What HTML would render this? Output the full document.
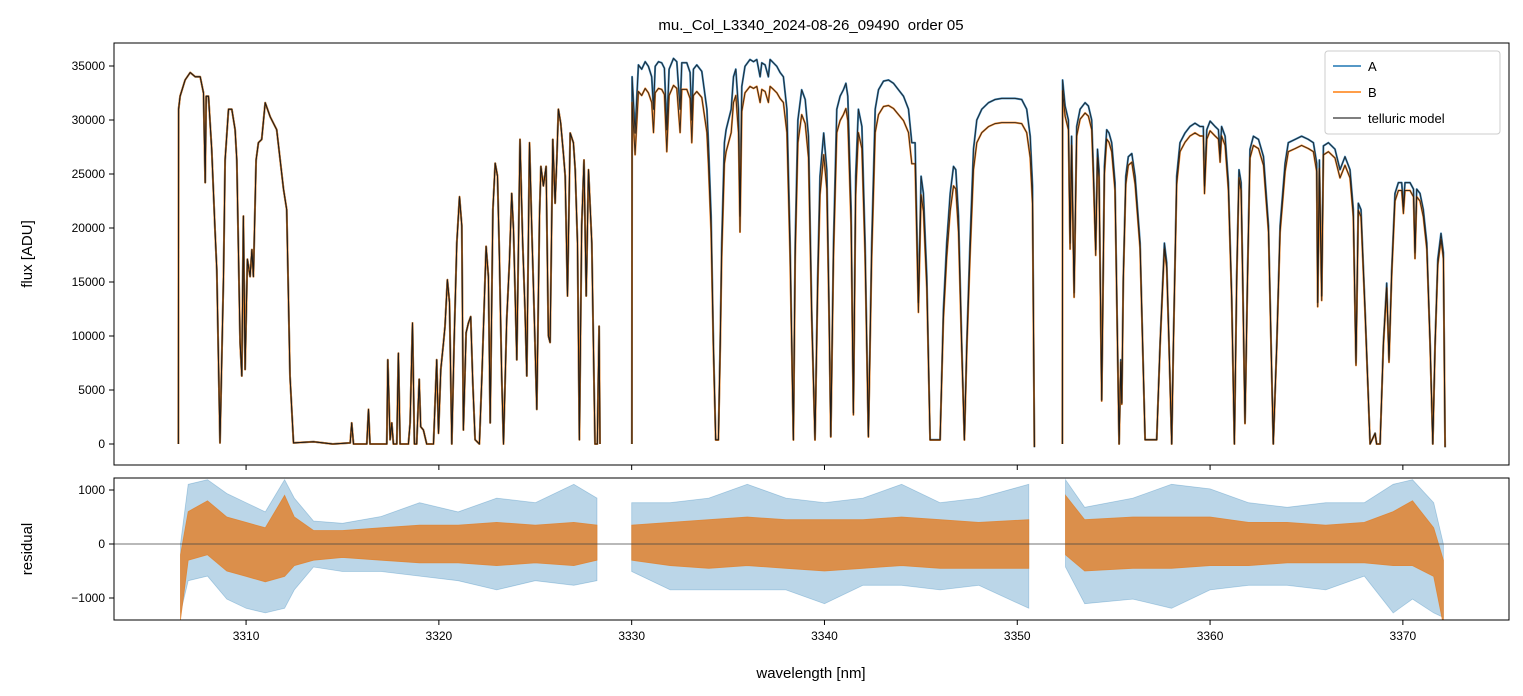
<!DOCTYPE html>
<html><head><meta charset="utf-8">
<style>
html,body{margin:0;padding:0;background:#fff;}
svg{display:block;font-family:"Liberation Sans","DejaVu Sans",sans-serif;}
</style></head>
<body>
<svg id="chart" width="1523" height="696" viewBox="0 0 1523 696" xmlns="http://www.w3.org/2000/svg">
<defs>
<clipPath id="cTop"><rect x="114" y="43" width="1395" height="422"/></clipPath>
<clipPath id="cRes"><rect x="114" y="478" width="1395" height="142"/></clipPath>
</defs>
<text x="811" y="30" text-anchor="middle" font-size="15" fill="#000" style="white-space:pre" xml:space="preserve">mu._Col_L3340_2024-08-26_09490  order 05</text>
<g id="gTop" clip-path="url(#cTop)"></g>
<g id="gRes" clip-path="url(#cRes)"></g>
<rect x="114" y="43" width="1395" height="422" fill="none" stroke="#000" stroke-width="1"/>
<rect x="114" y="478" width="1395" height="142" fill="none" stroke="#000" stroke-width="1"/>
<g id="gAxes"></g>
<text transform="translate(32,254) rotate(-90)" text-anchor="middle" font-size="15">flux [ADU]</text>
<text transform="translate(32,549) rotate(-90)" text-anchor="middle" font-size="15">residual</text>
<text x="811" y="678" text-anchor="middle" font-size="15">wavelength [nm]</text>
<g>
<rect x="1325" y="51" width="175" height="83" rx="3" fill="#fff" fill-opacity="0.85" stroke="#ccc"/>
<line x1="1333" y1="66" x2="1361" y2="66" stroke="#1f77b4" stroke-width="1.6"/>
<text x="1368" y="71" font-size="13">A</text>
<line x1="1333" y1="92" x2="1361" y2="92" stroke="#ff7f0e" stroke-width="1.6"/>
<text x="1368" y="97" font-size="13">B</text>
<line x1="1333" y1="118" x2="1361" y2="118" stroke="#555" stroke-width="1.6"/>
<text x="1368" y="123" font-size="13">telluric model</text>
</g>
</svg>
<script>
const xTicks=[3310,3320,3330,3340,3350,3360,3370];
const yTicks=[0,5000,10000,15000,20000,25000,30000,35000];
const resTicks=[-1000,0,1000];
const scaleA=[1,1,1];
const scaleB=[1,0.93,0.97];
const modelSeg1=[[3306.49,0],[3306.50,31000],[3306.58,32200],[3306.84,33700],[3307.10,34400],[3307.36,34000],[3307.62,34000],[3307.79,32500],[3307.88,24200],[3307.93,32200],[3308.05,32200],[3308.22,27300],[3308.39,19850],[3308.48,16100],[3308.65,100],[3308.83,15500],[3308.91,26300],[3309.09,31000],[3309.26,31000],[3309.43,29100],[3309.52,26300],[3309.69,9400],[3309.78,6300],[3309.86,21100],[3309.95,6900],[3310.07,17100],[3310.21,15500],[3310.30,18000],[3310.38,15500],[3310.52,26300],[3310.64,27900],[3310.81,28200],[3310.99,31600],[3311.25,30300],[3311.59,29100],[3311.94,23600],[3312.11,21700],[3312.28,6300],[3312.46,100],[3313.5,200],[3314.5,0],[3315.40,100],[3315.48,1950],[3315.57,0],[3316.26,0],[3316.35,3200],[3316.43,0],[3317.30,0],[3317.35,7800],[3317.47,400],[3317.56,1950],[3317.64,0],[3317.82,0],[3317.90,8400],[3317.99,0],[3318.42,0],[3318.51,1950],[3318.63,11200],[3318.73,0],[3318.85,0],[3318.98,6000],[3319.06,1600],[3319.20,1300],[3319.37,0],[3319.72,0],[3319.89,7800],[3319.98,1000],[3320.10,6900],[3320.24,9400],[3320.32,10900],[3320.44,15200],[3320.55,13100],[3320.67,0],[3320.79,9400],[3320.93,18600],[3321.07,22900],[3321.19,20200],[3321.27,1300],[3321.41,10300],[3321.53,11200],[3321.65,11800],[3321.76,5650],[3321.88,400],[3322.10,0],[3322.23,6300],[3322.45,18300],[3322.57,15500],[3322.66,1950],[3322.80,21700],[3322.92,26000],[3323.04,24800],[3323.14,17400],[3323.26,6300],[3323.35,0],[3323.52,11500],[3323.66,16800],[3323.78,23200],[3323.87,19850],[3324.04,7800],[3324.21,28200],[3324.35,18600],[3324.47,12400],[3324.56,6300],[3324.70,27900],[3324.82,19850],[3324.94,12400],[3325.08,3200],[3325.22,21100],[3325.29,25700],[3325.42,23900],[3325.56,25700],[3325.68,10000],[3325.77,9400],[3325.91,28200],[3326.03,22300],[3326.12,26600],[3326.20,31000],[3326.32,29700],[3326.46,26900],[3326.55,24800],[3326.67,13700],[3326.81,28800],[3326.98,27900],[3327.07,25400],[3327.19,18600],[3327.29,400],[3327.41,20200],[3327.53,26300],[3327.64,13700],[3327.76,25400],[3327.93,18600],[3328.10,0],[3328.22,0],[3328.31,10900],[3328.36,0]];
const modelSeg2=[[3330.01,0],[3330.02,34000],[3330.18,28800],[3330.35,35100],[3330.52,34700],[3330.70,35400],[3330.87,34970],[3331.04,34000],[3331.13,31000],[3331.22,34970],[3331.39,35400],[3331.56,35300],[3331.70,34800],[3331.82,29100],[3331.94,34700],[3332.17,35700],[3332.34,35400],[3332.51,31000],[3332.60,35300],[3332.86,35300],[3333.03,34400],[3333.12,30000],[3333.20,34700],[3333.38,35100],[3333.64,34500],[3333.90,31000],[3333.98,27900],[3334.12,21100],[3334.24,9400],[3334.36,400],[3334.50,400],[3334.59,9400],[3334.67,18600],[3334.81,27900],[3334.90,29100],[3335.02,30000],[3335.16,31000],[3335.28,34000],[3335.40,34700],[3335.54,31000],[3335.62,21100],[3335.71,33100],[3335.88,34970],[3336.14,35600],[3336.32,35400],[3336.49,35600],[3336.66,34000],[3336.75,35300],[3336.92,35100],[3337.09,34000],[3337.18,35600],[3337.35,35300],[3337.53,34970],[3337.70,34400],[3337.87,34000],[3338.05,31000],[3338.22,18600],[3338.39,400],[3338.48,18600],[3338.62,30000],[3338.82,32800],[3339.00,31900],[3339.17,28500],[3339.34,12400],[3339.51,400],[3339.65,15500],[3339.77,24800],[3339.96,28800],[3340.12,25400],[3340.24,12400],[3340.33,700],[3340.47,18600],[3340.64,31000],[3340.81,32200],[3340.98,32800],[3341.11,33400],[3341.21,32200],[3341.38,21700],[3341.50,2900],[3341.62,24800],[3341.76,31000],[3341.94,29400],[3342.11,18600],[3342.28,700],[3342.45,18600],[3342.63,31000],[3342.80,32800],[3343.06,33600],[3343.32,33700],[3343.58,33400],[3343.84,32800],[3344.10,32200],[3344.36,31000],[3344.53,27900],[3344.70,27900],[3344.87,13100],[3345.01,24800],[3345.13,23200],[3345.31,15500],[3345.48,400],[3346.00,400],[3346.17,12400],[3346.34,18600],[3346.52,23200],[3346.69,25700],[3346.81,25400],[3346.95,21100],[3347.12,9400],[3347.26,400],[3347.38,9400],[3347.55,18600],[3347.73,27300],[3347.90,30000],[3348.16,31000],[3348.51,31600],[3348.85,31900],[3349.20,32000],[3349.54,32000],[3349.89,32000],[3350.23,31900],[3350.49,31000],[3350.67,28500],[3350.79,23900],[3350.89,-300]];
const modelSeg3=[[3352.34,0],[3352.35,33700],[3352.48,31300],[3352.65,30000],[3352.74,18600],[3352.82,28500],[3352.95,14000],[3353.08,29400],[3353.26,31000],[3353.52,31600],[3353.69,31300],[3353.86,30000],[3353.95,25400],[3354.07,18000],[3354.16,27300],[3354.24,25400],[3354.38,4100],[3354.52,25700],[3354.64,29100],[3354.76,28800],[3354.90,27900],[3355.07,24200],[3355.28,0],[3355.37,7800],[3355.42,3800],[3355.50,15500],[3355.63,24800],[3355.76,26600],[3355.94,26900],[3356.11,24800],[3356.37,18600],[3356.63,400],[3357.23,400],[3357.41,9400],[3357.63,18600],[3357.75,16800],[3357.87,9400],[3358.01,0],[3358.10,9400],[3358.27,24800],[3358.44,27900],[3358.70,28800],[3358.96,29400],[3359.22,29700],[3359.48,29400],[3359.65,29400],[3359.71,23900],[3359.83,29100],[3360.00,29900],[3360.26,29400],[3360.43,29100],[3360.52,26900],[3360.60,29400],[3360.78,28500],[3360.95,24200],[3361.12,13700],[3361.26,0],[3361.38,15500],[3361.50,25400],[3361.61,24200],[3361.69,15500],[3361.81,1950],[3361.94,15500],[3362.07,27300],[3362.25,28500],[3362.51,28200],[3362.77,26600],[3363.03,20200],[3363.28,0],[3363.46,9400],[3363.63,20200],[3363.89,26000],[3364.06,27900],[3364.41,28200],[3364.75,28500],[3365.10,28200],[3365.36,27900],[3365.53,26000],[3365.58,13100],[3365.67,26300],[3365.79,13700],[3365.88,27600],[3366.14,27900],[3366.48,27300],[3366.74,25400],[3367.00,26600],[3367.26,25400],[3367.43,21700],[3367.57,7500],[3367.69,22300],[3367.83,21700],[3368.04,12400],[3368.30,0],[3368.56,1000],[3368.64,0],[3368.82,0],[3368.99,9400],[3369.16,14900],[3369.28,7800],[3369.42,16100],[3369.59,23200],[3369.77,24200],[3369.94,24200],[3370.03,22000],[3370.11,24200],[3370.37,24200],[3370.55,23600],[3370.63,17700],[3370.72,23600],[3370.89,23200],[3371.06,21700],[3371.24,18600],[3371.41,9400],[3371.55,0],[3371.67,9400],[3371.81,17100],[3371.98,19500],[3372.10,17700],[3372.19,-300]];
const resSeg1Wl=[3306.6,3307.0,3308.0,3309.0,3310.0,3311.0,3312.0,3312.5,3313.5,3315,3317,3319,3321,3323,3325,3327,3328.2];
const resSeg1Core=[[-200,-1400],[600,-300],[800,-200],[500,-500],[400,-600],[300,-700],[900,-600],[500,-400],[250,-300],[250,-250],[300,-300],[350,-350],[350,-350],[400,-400],[350,-350],[400,-400],[350,-300]];
const resSeg1Spike=[[0,-1500],[1300,-800],[1400,-700],[1100,-1200],[900,-1400],[700,-1500],[1400,-1400],[1000,-1000],[500,-500],[450,-600],[600,-600],[900,-700],[700,-800],[1000,-1000],[900,-800],[1300,-900],[1000,-800]];
const resSeg2Wl=[3330.0,3332,3334,3336,3338,3340,3342,3344,3346,3348,3350.6];
const resSeg2Core=[[350,-300],[400,-400],[450,-450],[500,-400],[450,-450],[450,-500],[450,-450],[500,-400],[450,-450],[400,-450],[450,-450]];
const resSeg2Spike=[[900,-600],[900,-1000],[1000,-1000],[1300,-1000],[1000,-1000],[900,-1300],[1000,-900],[1300,-900],[900,-1000],[1000,-900],[1300,-1400]];
const resSeg3Wl=[3352.5,3353.5,3356,3358,3360,3362,3364,3366,3368,3369.5,3370.5,3371.6,3372.1];
const resSeg3Core=[[900,-200],[450,-500],[500,-450],[500,-450],[500,-400],[400,-400],[400,-350],[350,-350],[400,-350],[600,-400],[800,-400],[300,-600],[-300,-1500]];
const resSeg3Spike=[[1400,-500],[800,-1300],[1000,-1200],[1300,-1400],[1200,-1000],[900,-900],[800,-900],[900,-1000],[900,-700],[1300,-1500],[1400,-1200],[900,-1500],[0,-1600]];

const NS='http://www.w3.org/2000/svg';
const X0=3303.15, PX=19.28;
function xS(w){return 114+(w-X0)*PX;}
function yS(v){return 444-v*0.0108;}
function yR(v){return 544-v*0.054;}
function mk(tag,attrs,parent){const e=document.createElementNS(NS,tag);for(const k in attrs)e.setAttribute(k,attrs[k]);parent.appendChild(e);return e;}

const gTop=document.getElementById('gTop');
const gRes=document.getElementById('gRes');
const gAxes=document.getElementById('gAxes');
const segs=[modelSeg1,modelSeg2,modelSeg3];
function pathOf(seg,s){return seg.map((p,i)=>(i?'L':'M')+xS(p[0]).toFixed(1)+','+yS(p[1]*s).toFixed(1)).join('');}

segs.forEach((seg,i)=>{
  const a=mk('path',{d:pathOf(seg,scaleA[i]),fill:'none',stroke:'#1f77b4','stroke-width':2,'stroke-opacity':0.85,'stroke-linejoin':'round'},gTop);
  
  
});
segs.forEach((seg,i)=>{
  const b=mk('path',{d:pathOf(seg,scaleB[i]),fill:'none',stroke:'#ff7f0e','stroke-width':2,'stroke-opacity':0.85,'stroke-linejoin':'round'},gTop);
  
  
});
segs.forEach((seg,i)=>{
  [scaleA[i],scaleB[i]].forEach((s,j)=>{
    const m=mk('path',{d:pathOf(seg,s),fill:'none',stroke:'#1a1a1a','stroke-width':1,'stroke-opacity':0.85,'stroke-linejoin':'round'},gTop);
    
    
  });
});

function band(wl,arr,scale,color,op,name){
  let d='';
  wl.forEach((w,i)=>{d+=(i?'L':'M')+xS(w).toFixed(1)+','+yR(arr[i][0]*scale).toFixed(1);});
  for(let i=wl.length-1;i>=0;i--){d+='L'+xS(wl[i]).toFixed(1)+','+yR(arr[i][1]*scale).toFixed(1);}
  const p=mk('path',{d:d+'Z',fill:color,'fill-opacity':op,stroke:color,'stroke-width':0.8,'stroke-opacity':op},gRes);
  
  
}
band(resSeg1Wl,resSeg1Spike,0.85,'#1f77b4',0.3,'residual-a-band-1');
band(resSeg2Wl,resSeg2Spike,0.85,'#1f77b4',0.3,'residual-a-band-2');
band(resSeg3Wl,resSeg3Spike,0.85,'#1f77b4',0.3,'residual-a-band-3');
band(resSeg1Wl,resSeg1Core,1,'#e0832f',0.85,'residual-b-band-1');
band(resSeg2Wl,resSeg2Core,1,'#e0832f',0.85,'residual-b-band-2');
band(resSeg3Wl,resSeg3Core,1,'#e0832f',0.85,'residual-b-band-3');
const zl=mk('line',{x1:114,x2:1509,y1:yR(0),y2:yR(0),stroke:'#444','stroke-width':0.8},gRes);



xTicks.forEach(t=>{
  const x=xS(t);
  const t1=mk('line',{x1:x,x2:x,y1:465,y2:470,stroke:'#000'},gAxes);
  
  
  const t2=mk('line',{x1:x,x2:x,y1:620,y2:625,stroke:'#000'},gAxes);
  
  
  const lb=mk('text',{x:x,y:640,'text-anchor':'middle','font-size':12},gAxes);
  lb.textContent=t;
  
  
});
yTicks.forEach(t=>{
  const y=yS(t);
  const tk=mk('line',{x1:109,x2:114,y1:y,y2:y,stroke:'#000'},gAxes);
  
  
  const lb=mk('text',{x:105,y:y+4,'text-anchor':'end','font-size':12},gAxes);
  lb.textContent=t;
  
  
});
resTicks.forEach(t=>{
  const y=yR(t);
  const tk=mk('line',{x1:109,x2:114,y1:y,y2:y,stroke:'#000'},gAxes);
  
  
  const lb=mk('text',{x:105,y:y+4,'text-anchor':'end','font-size':12},gAxes);
  lb.textContent=t<0?'\u2212'+Math.abs(t):t;
  
  
});
</script>
</body></html>
